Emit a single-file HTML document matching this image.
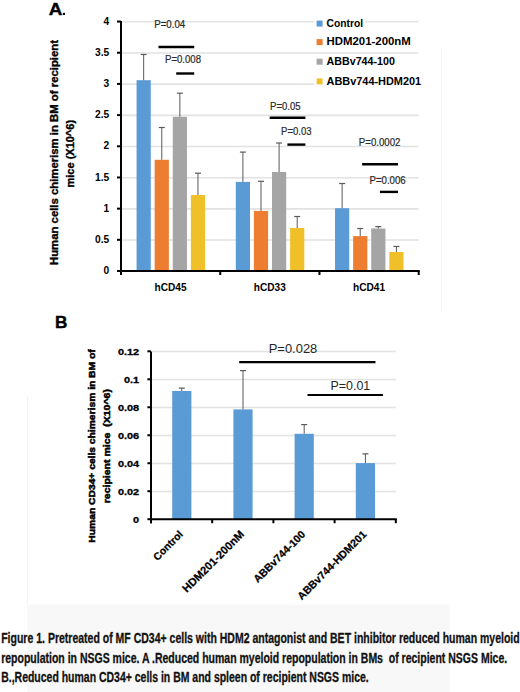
<!DOCTYPE html>
<html><head><meta charset="utf-8"><style>
html,body{margin:0;padding:0;background:#fff;overflow:hidden;width:520px;height:692px;}
svg{display:block;}
text{font-family:"Liberation Sans",sans-serif;}
</style></head><body>
<svg width="520" height="692" viewBox="0 0 520 692">
<rect width="520" height="692" fill="#fff"/>
<rect x="27" y="604.5" width="422.5" height="88" fill="#f8f8f8"/>
<line x1="27.5" y1="396" x2="27.5" y2="604" stroke="#f2f2f2" stroke-width="1"/>
<line x1="441.5" y1="47" x2="441.5" y2="312" stroke="#f4f4f4" stroke-width="1"/>
<line x1="122.0" y1="240.07" x2="418.7" y2="240.07" stroke="#e2e2e2" stroke-width="1.6"/>
<line x1="122.0" y1="208.89" x2="418.7" y2="208.89" stroke="#e2e2e2" stroke-width="1.6"/>
<line x1="122.0" y1="177.71" x2="418.7" y2="177.71" stroke="#e2e2e2" stroke-width="1.6"/>
<line x1="122.0" y1="146.53" x2="418.7" y2="146.53" stroke="#e2e2e2" stroke-width="1.6"/>
<line x1="122.0" y1="115.35" x2="418.7" y2="115.35" stroke="#e2e2e2" stroke-width="1.6"/>
<line x1="122.0" y1="84.17" x2="418.7" y2="84.17" stroke="#e2e2e2" stroke-width="1.6"/>
<line x1="122.0" y1="52.99" x2="418.7" y2="52.99" stroke="#e2e2e2" stroke-width="1.6"/>
<line x1="122.0" y1="21.81" x2="418.7" y2="21.81" stroke="#e2e2e2" stroke-width="1.6"/>
<rect x="136.57" y="80.20" width="14.2" height="190.80" fill="#5b9bd5"/>
<line x1="143.67" y1="80.20" x2="143.67" y2="54.50" stroke="#5a5a5a" stroke-width="1"/>
<line x1="140.67" y1="54.50" x2="146.67" y2="54.50" stroke="#5a5a5a" stroke-width="1.2"/>
<rect x="154.67" y="159.80" width="14.2" height="111.20" fill="#ed7d31"/>
<line x1="161.77" y1="159.80" x2="161.77" y2="127.50" stroke="#5a5a5a" stroke-width="1"/>
<line x1="158.77" y1="127.50" x2="164.77" y2="127.50" stroke="#5a5a5a" stroke-width="1.2"/>
<rect x="172.77" y="116.80" width="14.2" height="154.20" fill="#a5a5a5"/>
<line x1="179.87" y1="116.80" x2="179.87" y2="93.20" stroke="#5a5a5a" stroke-width="1"/>
<line x1="176.87" y1="93.20" x2="182.87" y2="93.20" stroke="#5a5a5a" stroke-width="1.2"/>
<rect x="190.87" y="195.00" width="14.2" height="76.00" fill="#f0c02a"/>
<line x1="197.97" y1="195.00" x2="197.97" y2="173.20" stroke="#5a5a5a" stroke-width="1"/>
<line x1="194.97" y1="173.20" x2="200.97" y2="173.20" stroke="#5a5a5a" stroke-width="1.2"/>
<rect x="235.80" y="181.90" width="14.2" height="89.10" fill="#5b9bd5"/>
<line x1="242.90" y1="181.90" x2="242.90" y2="152.10" stroke="#5a5a5a" stroke-width="1"/>
<line x1="239.90" y1="152.10" x2="245.90" y2="152.10" stroke="#5a5a5a" stroke-width="1.2"/>
<rect x="253.90" y="210.90" width="14.2" height="60.10" fill="#ed7d31"/>
<line x1="261.00" y1="210.90" x2="261.00" y2="181.30" stroke="#5a5a5a" stroke-width="1"/>
<line x1="258.00" y1="181.30" x2="264.00" y2="181.30" stroke="#5a5a5a" stroke-width="1.2"/>
<rect x="272.00" y="172.00" width="14.2" height="99.00" fill="#a5a5a5"/>
<line x1="279.10" y1="172.00" x2="279.10" y2="143.00" stroke="#5a5a5a" stroke-width="1"/>
<line x1="276.10" y1="143.00" x2="282.10" y2="143.00" stroke="#5a5a5a" stroke-width="1.2"/>
<rect x="290.10" y="228.00" width="14.2" height="43.00" fill="#f0c02a"/>
<line x1="297.20" y1="228.00" x2="297.20" y2="216.50" stroke="#5a5a5a" stroke-width="1"/>
<line x1="294.20" y1="216.50" x2="300.20" y2="216.50" stroke="#5a5a5a" stroke-width="1.2"/>
<rect x="335.03" y="208.20" width="14.2" height="62.80" fill="#5b9bd5"/>
<line x1="342.13" y1="208.20" x2="342.13" y2="183.50" stroke="#5a5a5a" stroke-width="1"/>
<line x1="339.13" y1="183.50" x2="345.13" y2="183.50" stroke="#5a5a5a" stroke-width="1.2"/>
<rect x="353.13" y="236.10" width="14.2" height="34.90" fill="#ed7d31"/>
<line x1="360.23" y1="236.10" x2="360.23" y2="228.50" stroke="#5a5a5a" stroke-width="1"/>
<line x1="357.23" y1="228.50" x2="363.23" y2="228.50" stroke="#5a5a5a" stroke-width="1.2"/>
<rect x="371.23" y="228.50" width="14.2" height="42.50" fill="#a5a5a5"/>
<line x1="378.33" y1="228.50" x2="378.33" y2="226.60" stroke="#5a5a5a" stroke-width="1"/>
<line x1="375.33" y1="226.60" x2="381.33" y2="226.60" stroke="#5a5a5a" stroke-width="1.2"/>
<rect x="389.33" y="252.00" width="14.2" height="19.00" fill="#f0c02a"/>
<line x1="396.43" y1="252.00" x2="396.43" y2="246.50" stroke="#5a5a5a" stroke-width="1"/>
<line x1="393.43" y1="246.50" x2="399.43" y2="246.50" stroke="#5a5a5a" stroke-width="1.2"/>
<line x1="121.0" y1="21" x2="121.0" y2="275.0" stroke="#000" stroke-width="2"/>
<line x1="120.0" y1="271.0" x2="419.7" y2="271.0" stroke="#000" stroke-width="2"/>
<line x1="117.0" y1="271.00" x2="121.0" y2="271.00" stroke="#000" stroke-width="2"/>
<line x1="117.0" y1="239.82" x2="121.0" y2="239.82" stroke="#000" stroke-width="2"/>
<line x1="117.0" y1="208.64" x2="121.0" y2="208.64" stroke="#000" stroke-width="2"/>
<line x1="117.0" y1="177.46" x2="121.0" y2="177.46" stroke="#000" stroke-width="2"/>
<line x1="117.0" y1="146.28" x2="121.0" y2="146.28" stroke="#000" stroke-width="2"/>
<line x1="117.0" y1="115.10" x2="121.0" y2="115.10" stroke="#000" stroke-width="2"/>
<line x1="117.0" y1="83.92" x2="121.0" y2="83.92" stroke="#000" stroke-width="2"/>
<line x1="117.0" y1="52.74" x2="121.0" y2="52.74" stroke="#000" stroke-width="2"/>
<line x1="117.0" y1="21.56" x2="121.0" y2="21.56" stroke="#000" stroke-width="2"/>
<line x1="121.00" y1="271.0" x2="121.00" y2="275.0" stroke="#000" stroke-width="2"/>
<line x1="220.23" y1="271.0" x2="220.23" y2="275.0" stroke="#000" stroke-width="2"/>
<line x1="319.47" y1="271.0" x2="319.47" y2="275.0" stroke="#000" stroke-width="2"/>
<line x1="418.70" y1="271.0" x2="418.70" y2="275.0" stroke="#000" stroke-width="2"/>
<text x="109.2" y="274.20" font-family="Liberation Sans" font-weight="bold" font-size="10.2" text-anchor="end" fill="#000">0</text>
<text x="109.2" y="243.02" font-family="Liberation Sans" font-weight="bold" font-size="10.2" text-anchor="end" fill="#000">0.5</text>
<text x="109.2" y="211.84" font-family="Liberation Sans" font-weight="bold" font-size="10.2" text-anchor="end" fill="#000">1</text>
<text x="109.2" y="180.66" font-family="Liberation Sans" font-weight="bold" font-size="10.2" text-anchor="end" fill="#000">1.5</text>
<text x="109.2" y="149.48" font-family="Liberation Sans" font-weight="bold" font-size="10.2" text-anchor="end" fill="#000">2</text>
<text x="109.2" y="118.30" font-family="Liberation Sans" font-weight="bold" font-size="10.2" text-anchor="end" fill="#000">2.5</text>
<text x="109.2" y="87.12" font-family="Liberation Sans" font-weight="bold" font-size="10.2" text-anchor="end" fill="#000">3</text>
<text x="109.2" y="55.94" font-family="Liberation Sans" font-weight="bold" font-size="10.2" text-anchor="end" fill="#000">3.5</text>
<text x="109.2" y="24.76" font-family="Liberation Sans" font-weight="bold" font-size="10.2" text-anchor="end" fill="#000">4</text>
<text x="170.62" y="291" font-family="Liberation Sans" font-weight="bold" font-size="10.8" text-anchor="middle" fill="#000" textLength="32" lengthAdjust="spacingAndGlyphs">hCD45</text>
<text x="269.85" y="291" font-family="Liberation Sans" font-weight="bold" font-size="10.8" text-anchor="middle" fill="#000" textLength="32" lengthAdjust="spacingAndGlyphs">hCD33</text>
<text x="369.08" y="291" font-family="Liberation Sans" font-weight="bold" font-size="10.8" text-anchor="middle" fill="#000" textLength="32" lengthAdjust="spacingAndGlyphs">hCD41</text>
<text x="154.2" y="28.2" font-family="Liberation Sans" font-size="10.0" fill="#2a2a2a" stroke="#2a2a2a" stroke-width="0.2" textLength="31" lengthAdjust="spacingAndGlyphs">P=0.04</text>
<line x1="158.5" y1="47" x2="194.2" y2="47" stroke="#000" stroke-width="2.4"/>
<text x="165.0" y="63.1" font-family="Liberation Sans" font-size="10.0" fill="#2a2a2a" stroke="#2a2a2a" stroke-width="0.2" textLength="36" lengthAdjust="spacingAndGlyphs">P=0.008</text>
<line x1="176.2" y1="73.5" x2="194.2" y2="73.5" stroke="#000" stroke-width="2.4"/>
<text x="270.1" y="109.7" font-family="Liberation Sans" font-size="10.0" fill="#2a2a2a" stroke="#2a2a2a" stroke-width="0.2" textLength="30.5" lengthAdjust="spacingAndGlyphs">P=0.05</text>
<line x1="269.7" y1="117.8" x2="305.4" y2="117.8" stroke="#000" stroke-width="2.4"/>
<text x="281.1" y="134.6" font-family="Liberation Sans" font-size="10.0" fill="#2a2a2a" stroke="#2a2a2a" stroke-width="0.2" textLength="30.5" lengthAdjust="spacingAndGlyphs">P=0.03</text>
<line x1="287.4" y1="144.6" x2="305.4" y2="144.6" stroke="#000" stroke-width="2.4"/>
<text x="358.8" y="146.2" font-family="Liberation Sans" font-size="10.0" fill="#2a2a2a" stroke="#2a2a2a" stroke-width="0.2" textLength="41.7" lengthAdjust="spacingAndGlyphs">P=0.0002</text>
<line x1="362.1" y1="164.3" x2="398" y2="164.3" stroke="#000" stroke-width="2.4"/>
<text x="369.5" y="183.6" font-family="Liberation Sans" font-size="10.0" fill="#2a2a2a" stroke="#2a2a2a" stroke-width="0.2" textLength="36.2" lengthAdjust="spacingAndGlyphs">P=0.006</text>
<line x1="379.9" y1="191.9" x2="398" y2="191.9" stroke="#000" stroke-width="2.4"/>
<rect x="314" y="17.20" width="51.0" height="12" fill="#fff"/>
<rect x="316.6" y="20.60" width="6" height="6" fill="#5b9bd5"/>
<text x="326.6" y="26.90" font-family="Liberation Sans" font-weight="bold" font-size="10.3" fill="#000" textLength="36.5" lengthAdjust="spacingAndGlyphs">Control</text>
<rect x="314" y="35.70" width="98.7" height="12" fill="#fff"/>
<rect x="316.6" y="39.10" width="6" height="6" fill="#ed7d31"/>
<text x="326.6" y="45.40" font-family="Liberation Sans" font-weight="bold" font-size="10.3" fill="#000" textLength="84.2" lengthAdjust="spacingAndGlyphs">HDM201-200nM</text>
<rect x="314" y="55.30" width="82.8" height="12" fill="#fff"/>
<rect x="316.6" y="58.70" width="6" height="6" fill="#a5a5a5"/>
<text x="326.6" y="65.00" font-family="Liberation Sans" font-weight="bold" font-size="10.3" fill="#000" textLength="68.3" lengthAdjust="spacingAndGlyphs">ABBv744-100</text>
<rect x="314" y="75.00" width="109.0" height="12" fill="#fff"/>
<rect x="316.6" y="78.40" width="6" height="6" fill="#f0c02a"/>
<text x="326.6" y="84.70" font-family="Liberation Sans" font-weight="bold" font-size="10.3" fill="#000" textLength="94.5" lengthAdjust="spacingAndGlyphs">ABBv744-HDM201</text>
<text transform="translate(48.7,15) scale(1.12,1)" font-family="Liberation Sans" font-weight="bold" font-size="16.8" fill="#000" stroke="#000" stroke-width="0.4">A</text>
<rect x="62.8" y="12.8" width="2.2" height="2.2" fill="#000"/>
<text transform="translate(58,152.5) rotate(-90)" font-family="Liberation Sans" font-weight="bold" font-size="10.4" stroke="#000" stroke-width="0.35" text-anchor="middle" fill="#000" textLength="225" lengthAdjust="spacingAndGlyphs">Human cells chimerism in BM of recipient</text>
<text transform="translate(73.5,153.7) rotate(-90)" font-family="Liberation Sans" font-weight="bold" font-size="10.4" stroke="#000" stroke-width="0.35" text-anchor="middle" fill="#000" textLength="67.5" lengthAdjust="spacingAndGlyphs">mice (X10^6)</text>
<line x1="152.0" y1="491.47" x2="395.8" y2="491.47" stroke="#e2e2e2" stroke-width="1.6"/>
<line x1="152.0" y1="463.49" x2="395.8" y2="463.49" stroke="#e2e2e2" stroke-width="1.6"/>
<line x1="152.0" y1="435.51" x2="395.8" y2="435.51" stroke="#e2e2e2" stroke-width="1.6"/>
<line x1="152.0" y1="407.53" x2="395.8" y2="407.53" stroke="#e2e2e2" stroke-width="1.6"/>
<line x1="152.0" y1="379.55" x2="395.8" y2="379.55" stroke="#e2e2e2" stroke-width="1.6"/>
<line x1="152.0" y1="351.57" x2="395.8" y2="351.57" stroke="#e2e2e2" stroke-width="1.6"/>
<rect x="172.20" y="391" width="19.2" height="128.20" fill="#5b9bd5"/>
<line x1="181.80" y1="391" x2="181.80" y2="388.1" stroke="#5a5a5a" stroke-width="1"/>
<line x1="178.80" y1="388.1" x2="184.80" y2="388.1" stroke="#5a5a5a" stroke-width="1.2"/>
<rect x="233.40" y="409.4" width="19.2" height="109.80" fill="#5b9bd5"/>
<line x1="243.00" y1="409.4" x2="243.00" y2="370.6" stroke="#5a5a5a" stroke-width="1"/>
<line x1="240.00" y1="370.6" x2="246.00" y2="370.6" stroke="#5a5a5a" stroke-width="1.2"/>
<rect x="294.60" y="433.8" width="19.2" height="85.40" fill="#5b9bd5"/>
<line x1="304.20" y1="433.8" x2="304.20" y2="424.6" stroke="#5a5a5a" stroke-width="1"/>
<line x1="301.20" y1="424.6" x2="307.20" y2="424.6" stroke="#5a5a5a" stroke-width="1.2"/>
<rect x="355.80" y="463.1" width="19.2" height="56.10" fill="#5b9bd5"/>
<line x1="365.40" y1="463.1" x2="365.40" y2="453.9" stroke="#5a5a5a" stroke-width="1"/>
<line x1="362.40" y1="453.9" x2="368.40" y2="453.9" stroke="#5a5a5a" stroke-width="1.2"/>
<line x1="151.0" y1="351.62" x2="151.0" y2="523.2" stroke="#000" stroke-width="2"/>
<line x1="150.0" y1="519.2" x2="396.8" y2="519.2" stroke="#000" stroke-width="2"/>
<line x1="147.4" y1="519.20" x2="151.0" y2="519.20" stroke="#000" stroke-width="2"/>
<line x1="147.4" y1="491.22" x2="151.0" y2="491.22" stroke="#000" stroke-width="2"/>
<line x1="147.4" y1="463.24" x2="151.0" y2="463.24" stroke="#000" stroke-width="2"/>
<line x1="147.4" y1="435.26" x2="151.0" y2="435.26" stroke="#000" stroke-width="2"/>
<line x1="147.4" y1="407.28" x2="151.0" y2="407.28" stroke="#000" stroke-width="2"/>
<line x1="147.4" y1="379.30" x2="151.0" y2="379.30" stroke="#000" stroke-width="2"/>
<line x1="147.4" y1="351.32" x2="151.0" y2="351.32" stroke="#000" stroke-width="2"/>
<line x1="151.00" y1="519.2" x2="151.00" y2="523.2" stroke="#000" stroke-width="2"/>
<line x1="212.20" y1="519.2" x2="212.20" y2="523.2" stroke="#000" stroke-width="2"/>
<line x1="273.40" y1="519.2" x2="273.40" y2="523.2" stroke="#000" stroke-width="2"/>
<line x1="334.60" y1="519.2" x2="334.60" y2="523.2" stroke="#000" stroke-width="2"/>
<line x1="395.80" y1="519.2" x2="395.80" y2="523.2" stroke="#000" stroke-width="2"/>
<text transform="translate(139.2,522.60) scale(1.14,1)" font-family="Liberation Sans" font-weight="bold" font-size="9.6" text-anchor="end" fill="#000" stroke="#000" stroke-width="0.3">0</text>
<text transform="translate(139.2,494.62) scale(1.14,1)" font-family="Liberation Sans" font-weight="bold" font-size="9.6" text-anchor="end" fill="#000" stroke="#000" stroke-width="0.3">0.02</text>
<text transform="translate(139.2,466.64) scale(1.14,1)" font-family="Liberation Sans" font-weight="bold" font-size="9.6" text-anchor="end" fill="#000" stroke="#000" stroke-width="0.3">0.04</text>
<text transform="translate(139.2,438.66) scale(1.14,1)" font-family="Liberation Sans" font-weight="bold" font-size="9.6" text-anchor="end" fill="#000" stroke="#000" stroke-width="0.3">0.06</text>
<text transform="translate(139.2,410.68) scale(1.14,1)" font-family="Liberation Sans" font-weight="bold" font-size="9.6" text-anchor="end" fill="#000" stroke="#000" stroke-width="0.3">0.08</text>
<text transform="translate(139.2,382.70) scale(1.14,1)" font-family="Liberation Sans" font-weight="bold" font-size="9.6" text-anchor="end" fill="#000" stroke="#000" stroke-width="0.3">0.1</text>
<text transform="translate(139.2,354.72) scale(1.14,1)" font-family="Liberation Sans" font-weight="bold" font-size="9.6" text-anchor="end" fill="#000" stroke="#000" stroke-width="0.3">0.12</text>
<text transform="translate(181.00,532.4) rotate(-45)" font-family="Liberation Sans" font-weight="bold" font-size="10.4" stroke="#000" stroke-width="0.25" text-anchor="end" dy="3.7" fill="#000">Control</text>
<text transform="translate(242.20,532.4) rotate(-45)" font-family="Liberation Sans" font-weight="bold" font-size="11.1" stroke="#000" stroke-width="0.25" text-anchor="end" dy="3.7" fill="#000">HDM201-200nM</text>
<text transform="translate(303.40,532.4) rotate(-45)" font-family="Liberation Sans" font-weight="bold" font-size="10.7" stroke="#000" stroke-width="0.25" text-anchor="end" dy="3.7" fill="#000">ABBv744-100</text>
<text transform="translate(364.60,532.4) rotate(-45)" font-family="Liberation Sans" font-weight="bold" font-size="10.7" stroke="#000" stroke-width="0.25" text-anchor="end" dy="3.7" fill="#000">ABBv744-HDM201</text>
<text x="268.7" y="352.8" font-family="Liberation Sans" font-size="12.4" fill="#262626" stroke="#262626" stroke-width="0" textLength="48.6" lengthAdjust="spacingAndGlyphs">P=0.028</text>
<line x1="239.2" y1="362.1" x2="375.5" y2="362.1" stroke="#000" stroke-width="2.2"/>
<text x="330.5" y="389.8" font-family="Liberation Sans" font-size="12.4" fill="#262626" stroke="#262626" stroke-width="0" textLength="39.7" lengthAdjust="spacingAndGlyphs">P=0.01</text>
<line x1="307.5" y1="395" x2="382.9" y2="395" stroke="#000" stroke-width="2.2"/>
<text x="55" y="328" font-family="Liberation Sans" font-weight="bold" font-size="17.2" fill="#000" stroke="#000" stroke-width="0.4">B</text>
<text transform="translate(95,446) rotate(-90)" font-family="Liberation Sans" font-weight="bold" font-size="9.8" stroke="#000" stroke-width="0.5" text-anchor="middle" fill="#000" textLength="193.3" lengthAdjust="spacingAndGlyphs">Human CD34+ cells chimerism in BM of</text>
<text transform="translate(109.6,446.2) rotate(-90)" font-family="Liberation Sans" font-weight="bold" font-size="9.8" stroke="#000" stroke-width="0.5" text-anchor="middle" fill="#000" xml:space="preserve" textLength="114.2" lengthAdjust="spacingAndGlyphs">recipient mice  (X10^6)</text>
<text x="1.2" y="643.0" font-family="Liberation Sans" font-weight="bold" font-size="14" fill="#111" stroke="#111" stroke-width="0.3" xml:space="preserve" textLength="518.5" lengthAdjust="spacingAndGlyphs">Figure 1. Pretreated of MF CD34+ cells with HDM2 antagonist and BET inhibitor reduced human myeloid</text>
<text x="1.2" y="662.6" font-family="Liberation Sans" font-weight="bold" font-size="14" fill="#111" stroke="#111" stroke-width="0.3" xml:space="preserve" textLength="506" lengthAdjust="spacingAndGlyphs">repopulation in NSGS mice. A .Reduced human myeloid repopulation in BMs  of recipient NSGS Mice.</text>
<text x="1.2" y="682.2" font-family="Liberation Sans" font-weight="bold" font-size="14" fill="#111" stroke="#111" stroke-width="0.3" xml:space="preserve" textLength="367.5" lengthAdjust="spacingAndGlyphs">B.,Reduced human CD34+ cells in BM and spleen of recipient NSGS mice.</text>
</svg>
</body></html>
